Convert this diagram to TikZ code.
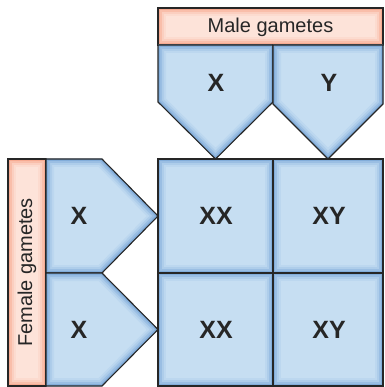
\documentclass[tikz,border=0pt]{standalone}
\usepackage{fontspec}
\setmainfont{Liberation Sans}
\definecolor{celllight}{RGB}{198,222,242}
\definecolor{celledge}{RGB}{118,164,214}
\definecolor{tablight}{RGB}{253,227,217}
\definecolor{tabedge}{RGB}{246,160,132}
% bevelled shape: #1 path, #2 inner colour, #3 edge colour
\newcommand\bevelfill[3]{%
  \begin{scope}
    \clip #1;
    \fill[#2] #1;
    \foreach \w/\p in {16/12,12/30,8/55,4/85}
      \draw[#3!\p!#2, line width=\w pt, line join=miter] #1;
  \end{scope}
  \draw[line width=1.1pt, black!85, line join=miter] #1;
}
\begin{document}
\begin{tikzpicture}[x=1pt, y=-1pt,
  big/.style={font=\fontsize{25}{25}\selectfont\bfseries, text=black!85},
  tab/.style={font=\fontsize{20}{20}\selectfont, text=black!85}]
  \useasboundingbox (0,0) rectangle (384,387);
  % headers
  \bevelfill{(158,8) rectangle (383,45)}{tablight}{tabedge}
  \bevelfill{(8,159) rectangle (46,386)}{tablight}{tabedge}
  \node[tab] (male) at (270.5,27) {Male gametes};
  \node[tab, rotate=90] (female) at (27,272.5) {Female gametes};
  % male gametes
  \bevelfill{(158,45) -- (273,45) -- (273,102) -- (215.5,159) -- (158,102) -- cycle}{celllight}{celledge}
  \bevelfill{(273,45) -- (383,45) -- (383,104) -- (328,159) -- (273,104) -- cycle}{celllight}{celledge}
  \node[big] (m1) at (216,83) {X};
  \node[big] (m2) at (329,83) {Y};
  % female gametes
  \bevelfill{(46,159) -- (102,159) -- (158,216) -- (102,273) -- (46,273) -- cycle}{celllight}{celledge}
  \bevelfill{(46,273) -- (102,273) -- (158,329.5) -- (102,386) -- (46,386) -- cycle}{celllight}{celledge}
  \node[big] (f1) at (79,216) {X};
  \node[big] (f2) at (79,330) {X};
  % offspring
  \bevelfill{(158,159) rectangle (273,273)}{celllight}{celledge}
  \bevelfill{(273,159) rectangle (383,273)}{celllight}{celledge}
  \bevelfill{(158,273) rectangle (273,386)}{celllight}{celledge}
  \bevelfill{(273,273) rectangle (383,386)}{celllight}{celledge}
  \node[big] (o11) at (216,216) {XX};
  \node[big] (o12) at (329,216) {XY};
  \node[big] (o21) at (216,330) {XX};
  \node[big] (o22) at (329,330) {XY};
\end{tikzpicture}
\end{document}
